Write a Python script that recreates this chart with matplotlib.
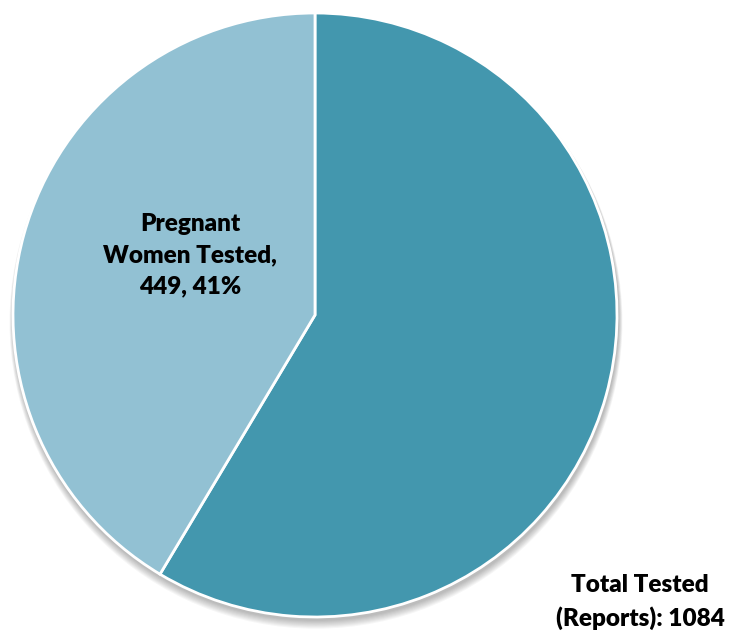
import matplotlib.pyplot as plt
from matplotlib.patches import Circle

# Test counts
total_tested = 1084
pregnant_tested = 449
slice_values = [total_tested - pregnant_tested, pregnant_tested]
slice_colors = ['#4397AE', '#92C1D3']

plt.rcParams['font.family'] = ['Lato', 'DejaVu Sans']

fig = plt.figure(figsize=(7.33, 6.35), dpi=100)
ax = fig.add_axes([0, 0, 1, 1])
ax.set_xlim(0, 733)
ax.set_ylim(0, 635)
ax.axis('off')

cx, cy, r = 315, 320, 302

# soft drop shadow under the pie
for i in range(8):
    ax.add_patch(Circle((cx + 1, cy - 3 - i * 0.6), r + 1 + i * 0.5,
                        color='black', alpha=0.035, lw=0, zorder=0))

wedges, _ = ax.pie(slice_values, colors=slice_colors, startangle=90,
                   counterclock=False, center=(cx, cy), radius=r,
                   wedgeprops=dict(edgecolor='white', linewidth=2))
for w in wedges:
    w.set_zorder(2)
ax.set_xlim(0, 733)
ax.set_ylim(0, 635)

pct = round(100 * pregnant_tested / total_tested)
ax.text(190, 635 - 255, f'Pregnant\nWomen Tested,\n{pregnant_tested}, {pct}%',
        ha='center', va='center', fontsize=17.5, fontweight='heavy',
        linespacing=1.5, zorder=3)
ax.text(640, 635 - 602, f'Total Tested\n(Reports): {total_tested}',
        ha='center', va='center', fontsize=17.5, fontweight='heavy',
        linespacing=1.5, zorder=3)

fig.savefig('out.png', dpi=100)
